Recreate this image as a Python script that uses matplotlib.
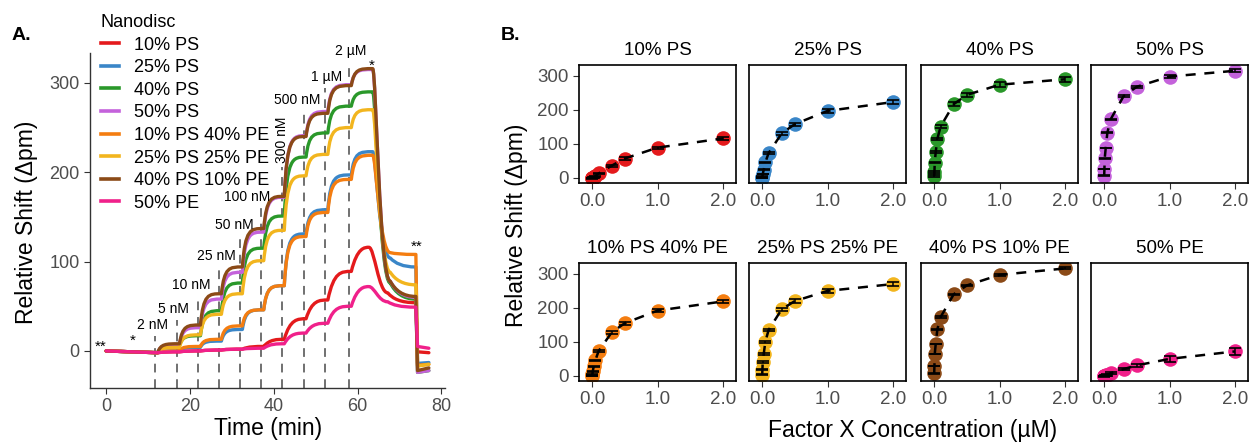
import matplotlib.pyplot as plt
from matplotlib.path import Path
from matplotlib.patches import PathPatch
from matplotlib.lines import Line2D

plt.rcParams['font.family'] = ['Liberation Sans', 'DejaVu Sans']

# nanodisc compositions and their colours
names = ['10% PS', '25% PS', '40% PS', '50% PS',
         '10% PS 40% PE', '25% PS 25% PE', '40% PS 10% PE', '50% PE']
colors = ['#E41A1C', '#3A86C8', '#2A982A', '#C462DB',
          '#F47D10', '#F2B51E', '#8B4A17', '#F0208A']

# Factor X injections
conc_um = [0.002, 0.005, 0.01, 0.025, 0.05, 0.1, 0.3, 0.5, 1.0, 2.0]
conc_labels = ['2 nM', '5 nM', '10 nM', '25 nM', '50 nM', '100 nM',
               '300 nM', '500 nM', '1 \u00b5M', '2 \u00b5M']
inject_min = [11.7, 16.9, 21.9, 26.9, 31.9, 37.0, 41.9, 47.1, 52.3, 57.9]

# equilibrium shift (pm) reached after each injection
shift = {
    '10% PS':        [-1, 0, 1, 2, 5, 13, 36, 57, 89, 116],
    '25% PS':        [0, 4, 11, 24, 46, 73, 131, 158, 197, 223],
    '40% PS':        [6, 17, 45, 76, 115, 151, 217, 244, 274, 290],
    '50% PS':        [7, 26, 58, 88, 133, 172, 241, 268, 298, 315],
    '10% PS 40% PE': [0, 5, 13, 28, 46, 73, 128, 155, 192, 219],
    '25% PS 25% PE': [4, 18, 41, 64, 101, 135, 196, 220, 250, 270],
    '40% PS 10% PE': [8, 29, 64, 94, 137, 173, 240, 266, 297, 316],
    '50% PE':        [-1, 0, 1, 2, 3, 8, 20, 31, 50, 72],
}
shift_err = {
    '10% PS':        [1, 1, 1, 1, 1, 2, 3, 3, 3, 4],
    '25% PS':        [1, 1, 1, 1, 2, 2, 4, 4, 5, 5],
    '40% PS':        [2, 2, 2, 3, 3, 5, 6, 5, 7, 8],
    '50% PS':        [1, 1, 1, 1, 2, 2, 3, 3, 4, 4],
    '10% PS 40% PE': [1, 1, 1, 1, 2, 2, 4, 4, 4, 5],
    '25% PS 25% PE': [1, 1, 2, 2, 3, 4, 5, 5, 6, 6],
    '40% PS 10% PE': [1, 1, 1, 1, 1, 2, 2, 2, 3, 3],
    '50% PE':        [1, 1, 1, 1, 2, 3, 4, 5, 8, 11],
}
# wash start, wash end, after regeneration, end of run (pm)
wash = {
    '10% PS':        [65, 54, -1, -2],
    '25% PS':        [104, 94, -14, -13],
    '40% PS':        [76, 58, -24, -22],
    '50% PS':        [78, 60, -24, -22],
    '10% PS 40% PE': [110, 108, -16, -15],
    '25% PS 25% PE': [88, 74, -17, -15],
    '40% PS 10% PE': [78, 61, -22, -19],
    '50% PE':        [55, 49, 5, 3],
}
slow_binders = ['10% PS', '50% PE']


def sensorgram(levels, tail, slow):
    """Build a smooth path for one trace through its plateau levels."""
    lag = 0.6
    c1, c2 = (1.4, 3.2) if slow else (0.7, 1.9)
    verts = [(0, 0), (6, -1), (inject_min[0] + lag, -2)]
    codes = [Path.MOVETO, Path.LINETO, Path.LINETO]
    peak_end = 62.7 if slow else 63.6
    ends = [t + lag for t in inject_min[1:]] + [peak_end]
    for t0, t1, lev in zip(inject_min, ends, levels):
        s = t0 + lag
        verts += [(s + c1, lev), (s + c2, lev), (t1, lev)]
        codes += [Path.CURVE4] * 3
    d0, d1, r0, r1 = tail
    pk = levels[-1]
    w0 = peak_end + (4.5 if slow else 4.2)
    verts += [(peak_end + (1.3 if slow else 0.8), pk),
              (peak_end + (2.3 if slow else 1.6), d0), (w0, d0)]
    verts += [(w0 + 1.2, d1 + 0.4 * (d0 - d1)), (w0 + 3.0, d1), (73.9, d1)]
    codes += [Path.CURVE4] * 6
    verts += [(74.3, r0), (77, r1)]
    codes += [Path.LINETO] * 2
    return Path(verts, codes)


fig = plt.figure(figsize=(12.52, 4.47), dpi=100)
W, H = 1252, 447
grey = '#4D4D4D'

# ---- A: sensorgrams ----
ax = fig.add_axes([90 / W, 1 - 388 / H, 355 / W, 335 / H])
ax.set_xlim(-3.85, 80.85)
ax.set_ylim(-41.5, 333.5)
for side in ['top', 'right']:
    ax.spines[side].set_visible(False)
for side in ['left', 'bottom']:
    ax.spines[side].set_color('#333333')
    ax.spines[side].set_linewidth(1.0)
ax.set_xticks([0, 20, 40, 60, 80])
ax.set_yticks([0, 100, 200, 300])
ax.tick_params(labelsize=13, labelcolor=grey, color='#333333', length=4)

# injection markers with their concentrations
label_base = [24.6, 42.5, 69.4, 101.9, 136.6, 167.9, 236.0, 276.5, 302.2, 331.4]
label_x = [10.95, 15.95, 20.2, 26.4, 30.7, 33.6, 41.9, 45.5, 52.6, 58.3]
for i, (t, lab) in enumerate(zip(inject_min, conc_labels)):
    if lab == '300 nM':
        top = label_base[i] - 30
        ax.text(label_x[i], label_base[i], lab, rotation=90, ha='center',
                va='center', fontsize=10, clip_on=False)
    else:
        top = label_base[i] - 8
        ax.text(label_x[i], label_base[i], lab, ha='center', va='baseline',
                fontsize=10, clip_on=False)
    ax.vlines(t, -41.5, top, colors='#707070', linestyles=(0, (4.5, 3.5)),
              linewidth=1.4, zorder=1)

for txt, x, y in [('**', -1.4, 0.5), ('*', 6.4, 7.3),
                  ('*', 63.3, 315), ('**', 74.0, 112.5)]:
    ax.text(x, y, txt, ha='center', va='baseline', fontsize=11)

for name, col in zip(names, colors):
    path = sensorgram(shift[name], wash[name], name in slow_binders)
    ax.add_patch(PathPatch(path, facecolor='none', edgecolor=col, lw=2.4,
                           capstyle='round', joinstyle='round', zorder=2))

handles = [Line2D([], [], color=c, lw=2.6) for c in colors]
leg = fig.legend(handles, names, title='Nanodisc', loc='upper left',
                 bbox_to_anchor=(101 / W, 1 - 14 / H), frameon=False,
                 fontsize=13, title_fontsize=13, handlelength=1.0,
                 handletextpad=0.85, labelspacing=0.31, borderpad=0,
                 borderaxespad=0, alignment='left')

fig.text(27 / W, 1 - 222 / H, 'Relative Shift (\u0394pm)', rotation=90,
         ha='center', va='center', fontsize=16.5)
fig.text(268 / W, 1 - 429 / H, 'Time (min)', ha='center', va='center',
         fontsize=16.5)
fig.text(12 / W, 1 - 36 / H, 'A.', fontsize=14, fontweight='bold',
         va='center')

# ---- B: binding isotherms ----
lefts = [579, 749, 921, 1091]
tops = [65, 263]
for i, (name, col) in enumerate(zip(names, colors)):
    row, c = divmod(i, 4)
    bx = fig.add_axes([lefts[c] / W, 1 - (tops[row] + 118) / H,
                       157 / W, 118 / H])
    bx.set_xlim(-0.2, 2.2)
    bx.set_ylim(-15, 332)
    bx.plot(conc_um, shift[name], 'o', color=col, ms=10.5, mec='none',
            zorder=2)
    bx.plot(conc_um, shift[name], color='black', lw=1.8,
            linestyle=(0, (4, 3.5)), zorder=3)
    bx.errorbar(conc_um, shift[name], yerr=shift_err[name], fmt='none',
                ecolor='black', elinewidth=1.1, capsize=4.5, capthick=1.2,
                zorder=4)
    for sp in bx.spines.values():
        sp.set_linewidth(1.2)
        sp.set_color('black')
    bx.set_xticks([0, 1, 2])
    bx.set_xticklabels(['0.0', '1.0', '2.0'])
    bx.set_yticks([0, 100, 200, 300])
    bx.tick_params(labelsize=13.5, labelcolor=grey, color='#333333',
                   length=4)
    if c > 0:
        bx.tick_params(left=False, labelleft=False)
    bx.set_title(name, fontsize=13.5, pad=7)

fig.text(517 / W, 1 - 225 / H, 'Relative Shift (\u0394pm)', rotation=90,
         ha='center', va='center', fontsize=16.5)
fig.text(913 / W, 1 - 430 / H, 'Factor X Concentration (\u00b5M)',
         ha='center', va='center', fontsize=16.5)
fig.text(501 / W, 1 - 35 / H, 'B.', fontsize=14, fontweight='bold',
         va='center')

fig.savefig('out.png', dpi=100)
